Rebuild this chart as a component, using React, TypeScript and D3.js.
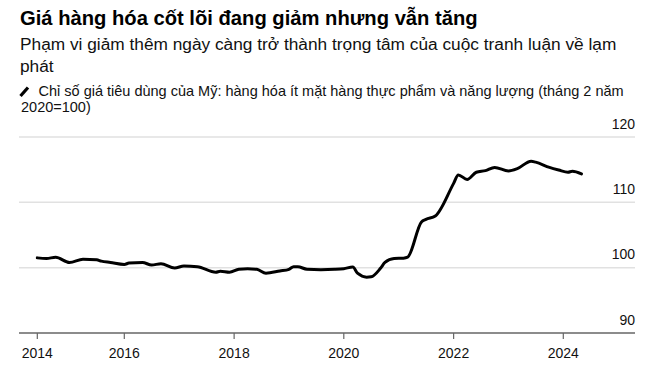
import React from 'react';
import * as d3 from 'd3';

const title = 'Giá hàng hóa cốt lõi đang giảm nhưng vẫn tăng';
const subtitleLines = [
  'Phạm vi giảm thêm ngày càng trở thành trọng tâm của cuộc tranh luận về lạm',
  'phát',
];
const legendLines = [
  'Chỉ số giá tiêu dùng của Mỹ: hàng hóa ít mặt hàng thực phẩm và năng lượng (tháng 2 năm',
  '2020=100)',
];

const months = [
  '2014-06', '2014-08', '2014-10', '2015-01', '2015-04', '2015-07', '2015-08', '2015-10',
  '2016-01', '2016-02', '2016-05', '2016-07', '2016-09', '2016-12', '2017-02', '2017-05',
  '2017-09', '2017-10', '2017-12', '2018-02', '2018-04', '2018-06', '2018-08', '2018-11',
  '2019-01', '2019-02', '2019-03', '2019-05', '2019-08', '2019-11', '2020-01', '2020-03',
  '2020-04', '2020-06', '2020-07', '2020-09', '2020-10', '2020-12', '2021-02', '2021-03',
  '2021-06', '2021-07', '2021-09', '2022-01', '2022-02', '2022-04', '2022-06', '2022-08',
  '2022-10', '2023-01', '2023-03', '2023-06', '2023-07', '2023-10', '2023-12', '2024-02',
  '2024-03', '2024-05',
];
const values = [
  101.5, 101.4, 101.6, 100.8, 101.3, 101.2, 101.0, 100.8,
  100.5, 100.7, 100.8, 100.4, 100.6, 99.95, 100.25, 100.15,
  99.3, 99.45, 99.3, 99.75, 99.85, 99.75, 99.15, 99.5,
  99.75, 100.15, 100.15, 99.75, 99.7, 99.75, 99.85, 100.1,
  99.15, 98.55, 98.6, 99.9, 100.8, 101.4, 101.45, 101.6,
  107.0, 107.4, 107.9, 112.9, 114.2, 113.5, 114.6, 114.85,
  115.35, 114.8, 115.15, 116.3, 116.15, 115.35, 114.95, 114.6,
  114.75, 114.35,
];
const yTicks = [90, 100, 110, 120];
const xTickYears = [2016, 2018, 2020, 2022, 2024];

const W = 662;
const H = 373;
const left = 19;
const right = 635;
const font = '"Liberation Sans", Arial, Helvetica, sans-serif';

const parse = d3.timeParse('%Y-%m');

export default function App() {
  const data = months.map((m, i) => ({ date: parse(m) as Date, value: values[i] }));

  const x = d3
    .scaleTime()
    .domain([new Date(2016, 0, 1), new Date(2024, 0, 1)])
    .range([124.3, 563.3]);
  const y = d3.scaleLinear().domain([90, 120]).range([333, 137]);

  const line = d3
    .line<{ date: Date; value: number }>()
    .x((d) => x(d.date))
    .y((d) => y(d.value))
    .curve(d3.curveMonotoneX);

  const xTicks = [
    { date: data[0].date, label: '2014' },
    ...xTickYears.map((yr) => ({ date: new Date(yr, 0, 1), label: String(yr) })),
  ];

  return (
    <svg
      width={W}
      height={H}
      style={{ position: 'absolute', left: 0, top: 0, background: '#fff' }}
      fontFamily={font}
    >
      <text x={20} y={25} fontSize={20.2} fontWeight="bold" fill="#000">
        {title}
      </text>
      {subtitleLines.map((t, i) => (
        <text key={i} x={20} y={50 + i * 22} fontSize={17.3} fill="#111">
          {t}
        </text>
      ))}
      {/* legend swatch: short slanted stroke */}
      <line x1={20.5} y1={96} x2={28} y2={87.5} stroke="#000" strokeWidth={3.2} strokeLinecap="butt" />
      {legendLines.map((t, i) => (
        <text key={i} x={i === 0 ? 38.5 : 21} y={95.5 + i * 16} fontSize={14.5} fill="#111">
          {t}
        </text>
      ))}

      {yTicks.slice(1).map((v) => (
        <line key={v} x1={left} x2={right} y1={y(v)} y2={y(v)} stroke="#e1e1e1" strokeWidth={1.5} />
      ))}
      {yTicks.map((v) => (
        <text key={v} x={right} y={y(v) - 8.5} textAnchor="end" fontSize={14} fill="#111">
          {v}
        </text>
      ))}

      <path d={line(data) || ''} fill="none" stroke="#000" strokeWidth={3} strokeLinejoin="round" strokeLinecap="round" />

      <line x1={left} x2={right} y1={y(90)} y2={y(90)} stroke="#666" strokeWidth={1.5} />
      {xTicks.map((t) => (
        <g key={t.label} transform={`translate(${x(t.date)},0)`}>
          <line y1={y(90)} y2={y(90) + 6} stroke="#666" strokeWidth={1.2} />
          <text y={358.3} textAnchor="middle" fontSize={14} fill="#111">
            {t.label}
          </text>
        </g>
      ))}
    </svg>
  );
}
